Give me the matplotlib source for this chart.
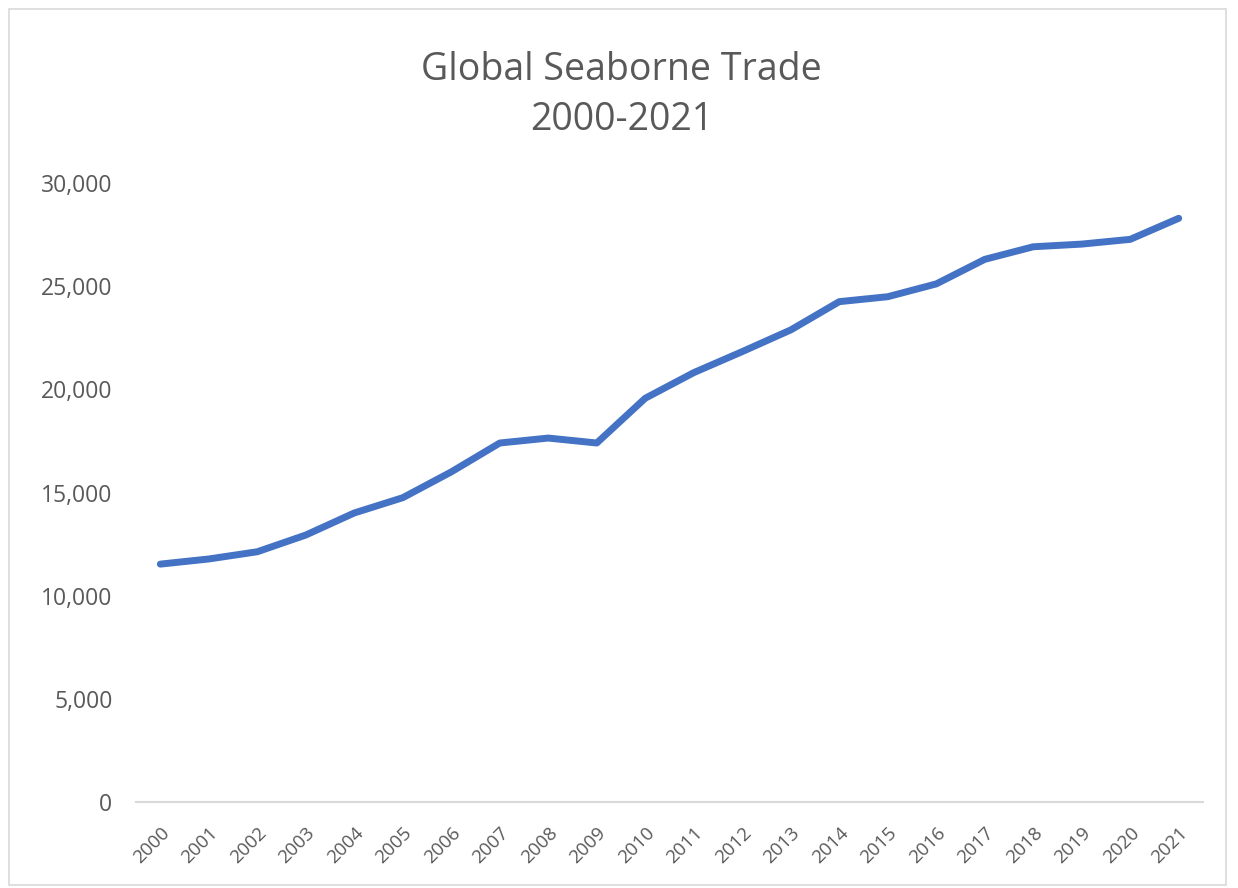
import matplotlib.pyplot as plt
from matplotlib.patches import Rectangle
from matplotlib.ticker import FuncFormatter

plt.rcParams['font.family'] = ['Open Sans', 'DejaVu Sans']

# Seaborne trade by year
years = [str(y) for y in range(2000, 2022)]
trade = [11530, 11780, 12130, 12940, 14010, 14750, 16000, 17400, 17640, 17400,
         19570, 20810, 21830, 22880, 24250, 24490, 25110, 26300, 26910, 27040,
         27270, 28290]

fig = plt.figure(figsize=(12.38, 8.88), dpi=100)
ax = fig.add_axes([0.1099, 0.0968, 0.8618, 0.6971])

x = range(len(years))
ax.plot(x, trade, color='#4472C4', linewidth=5, solid_capstyle='round',
        solid_joinstyle='round')

ax.set_xlim(-0.5, len(years) - 0.5)
ax.set_ylim(0, 30000)
ax.set_yticks(range(0, 30001, 5000))
ax.yaxis.set_major_formatter(FuncFormatter(lambda v, p: f"{int(v):,}"))
ax.set_xticks(list(x))
ax.set_xticklabels(years, rotation=45, ha='right', va='top',
                   rotation_mode='anchor')

for s in ['top', 'right', 'left']:
    ax.spines[s].set_visible(False)
ax.spines['bottom'].set_color('#d9d9d9')
ax.spines['bottom'].set_linewidth(1.5)
ax.tick_params(axis='y', length=0, labelsize=16.5, labelcolor='#595959', pad=17)
ax.tick_params(axis='x', length=0, labelsize=13.5, labelcolor='#595959', pad=16)

fig.text(0.502, 0.893, "Global Seaborne Trade\n2000-2021", ha='center',
         va='center', fontsize=27, color='#595959', linespacing=1.42)

# light frame around the chart area
fig.patches.append(Rectangle((0.007, 0.003), 0.983, 0.987,
                             transform=fig.transFigure, fill=False,
                             edgecolor='#d9d9d9', linewidth=1.2))

fig.savefig('out.png', dpi=100)
